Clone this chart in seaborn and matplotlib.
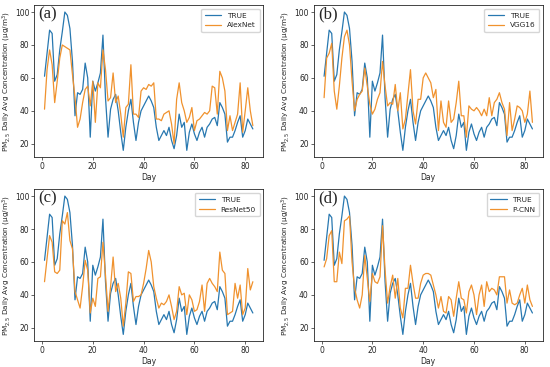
import numpy as np
import pandas as pd
import matplotlib
matplotlib.use("Agg")
import matplotlib.pyplot as plt
import seaborn as sns

# observed daily PM2.5 (same in every panel)
true_vals = [61, 75, 89, 87, 58, 62, 77, 88, 100, 98,
             90, 70, 37, 51, 50, 53, 69, 60, 24, 58,
             52, 57, 63, 86, 48, 24, 41, 47, 50, 40,
             27, 16, 30, 40, 47, 33, 22, 33, 40, 43,
             46, 49, 46, 42, 30, 22, 25, 28, 25, 30,
             22, 17, 25, 38, 30, 33, 16, 27, 32, 26,
             22, 27, 30, 24, 30, 32, 35, 36, 31, 45,
             42, 38, 21, 24, 24, 28, 33, 37, 24, 28,
             35, 32, 29]

alexnet = [41, 65, 77, 68, 45, 58, 72, 80, 79, 78,
           77, 62, 48, 30, 35, 45, 53, 55, 43, 58,
           33, 57, 54, 77, 65, 46, 48, 63, 45, 49,
           38, 24, 42, 44, 68, 38, 38, 36, 52, 54,
           53, 56, 55, 57, 35, 35, 34, 38, 39, 40,
           32, 20, 47, 57, 45, 40, 33, 36, 42, 28,
           34, 35, 37, 39, 38, 40, 55, 54, 38, 64,
           60, 52, 28, 37, 28, 33, 38, 57, 27, 40,
           54, 40, 31]

vgg16 = [48, 72, 75, 81, 52, 41, 55, 72, 85, 89,
         80, 58, 40, 47, 50, 52, 66, 55, 44, 38,
         41, 47, 51, 70, 55, 43, 45, 44, 56, 40,
         51, 29, 35, 50, 65, 40, 32, 47, 47, 60,
         63, 60, 57, 48, 53, 28, 46, 33, 30, 46,
         33, 35, 45, 58, 37, 37, 24, 43, 41, 40,
         42, 40, 37, 41, 37, 48, 37, 45, 47, 51,
         45, 41, 25, 45, 28, 35, 43, 42, 40, 33,
         38, 52, 33]

resnet50 = [48, 62, 76, 72, 54, 53, 55, 85, 83, 90,
            73, 68, 42, 37, 32, 45, 61, 55, 29, 38,
            33, 50, 51, 72, 52, 30, 45, 63, 42, 47,
            38, 21, 35, 54, 53, 36, 39, 39, 40, 47,
            56, 67, 60, 45, 38, 32, 35, 34, 36, 40,
            33, 25, 30, 45, 40, 41, 28, 40, 37, 30,
            31, 36, 46, 30, 47, 50, 47, 45, 42, 66,
            55, 53, 28, 29, 30, 47, 38, 46, 28, 32,
            56, 43, 48]

pcnn = [57, 62, 76, 79, 48, 48, 66, 59, 85, 86,
        88, 60, 44, 37, 32, 40, 64, 50, 36, 53,
        48, 47, 51, 82, 55, 35, 45, 52, 38, 50,
        32, 26, 44, 44, 58, 47, 38, 38, 47, 52,
        53, 53, 52, 46, 40, 32, 39, 30, 29, 39,
        37, 27, 38, 48, 38, 37, 29, 42, 46, 40,
        28, 40, 46, 33, 48, 42, 44, 43, 40, 51,
        51, 51, 35, 43, 35, 34, 35, 40, 44, 35,
        46, 37, 33]

panels = [("(a)", "AlexNet", alexnet),
          ("(b)", "VGG16", vgg16),
          ("(c)", "ResNet50", resnet50),
          ("(d)", "P-CNN", pcnn)]

days = np.arange(1, len(true_vals) + 1)

sns.set_style("ticks")
plt.rcParams["font.family"] = ["DejaVu Sans"]

fig, axes = plt.subplots(2, 2, figsize=(5.5, 3.67), dpi=100)
fig.subplots_adjust(left=0.062, right=0.987, top=0.986, bottom=0.07,
                    wspace=0.22, hspace=0.21)

for ax, (tag, name, pred) in zip(axes.flat, panels):
    df = pd.DataFrame({
        "Day": np.concatenate([days, days]),
        "value": true_vals + pred,
        "series": ["TRUE"] * len(days) + [name] * len(days),
    })
    sns.lineplot(data=df, x="Day", y="value", hue="series",
                 palette=["#2878b0", "#f0922e"], linewidth=0.9, ax=ax)
    sns.move_legend(ax, "upper right", title=None, fontsize=5.3,
                    frameon=True, handlelength=2.2, borderpad=0.5)
    ax.set_xlabel("Day", fontsize=5.5, labelpad=1.5)
    ax.set_ylabel("PM$_{2.5}$ Daily Avg Concentration (μg/m$^3$)",
                  fontsize=5.2, labelpad=1.5)
    ax.set_xticks([0, 20, 40, 60, 80])
    ax.set_yticks([20, 40, 60, 80, 100])
    ax.tick_params(labelsize=5.5, length=2, width=0.5, pad=1.5)
    for s in ax.spines.values():
        s.set_linewidth(0.6)
    ax.text(0.02, 0.99, tag, transform=ax.transAxes, ha="left", va="top",
            fontsize=12, family=["Liberation Serif"])

fig.savefig("out.png", dpi=100)
